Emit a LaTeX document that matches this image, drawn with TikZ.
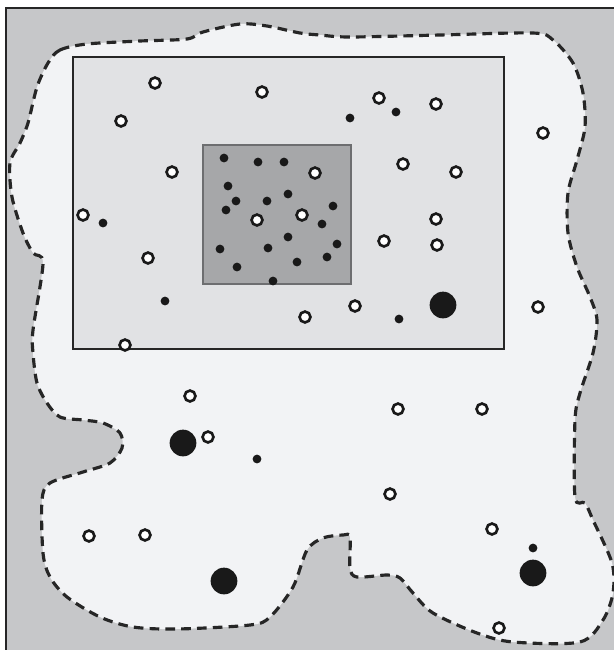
\documentclass[tikz,border=0pt]{standalone}
\definecolor{outergray}{HTML}{C6C7C9}
\definecolor{regionfill}{HTML}{F2F3F5}
\definecolor{boxfill}{HTML}{E1E2E4}
\definecolor{corefill}{HTML}{A6A7A9}
\definecolor{coreline}{HTML}{6D6E70}
\begin{document}
\begin{tikzpicture}[x=0.02cm,y=-0.02cm,
    opendot/.style={draw=black!90,fill=white,line width=1.5pt},
    smalldot/.style={fill=black!90},
    bigdot/.style={fill=black!90}]
    \useasboundingbox (0,0) rectangle (614,650);
    \clip (0,0) rectangle (614,650);
    % background and frame
    \fill[outergray] (6,8) rectangle (620,656);
    \draw[line width=1.5pt,black!85] (6,660) -- (6,8) -- (620,8);
    % dashed region
    \filldraw[fill=regionfill,draw=black!85,line width=1.8pt,dash pattern=on 5.5pt off 3.5pt]
        plot[smooth cycle,tension=0.5] coordinates {
        (48,63) (60,50) (87,44) (140,41) (187,39) (203,32) (240,24) (267,26)
        (300,33) (320,35) (350,37) (440,35) (533,33) (553,40) (573,63) (583,93)
        (585,127) (577,160) (568,193) (568,233) (577,267) (590,297) (597,320)
        (593,353) (580,393) (575,420) (575,497) (585,503) (593,520) (612,563)
        (613,593) (603,620) (580,642) (513,642) (477,633) (433,613) (413,593)
        (400,578) (387,575) (357,577) (350,568) (350,537) (343,535) (323,538)
        (307,550) (293,587) (270,617) (250,625) (177,629) (133,627) (100,617)
        (67,597) (50,577) (43,553) (42,500) (50,483) (83,472) (110,463)
        (122,448) (120,433) (103,423) (83,420) (60,417) (47,403) (37,383)
        (33,353) (33,330) (43,263) (33,253) (23,233) (12,197) (10,163)
        (20,143) (28,123) (37,87)};
    % boxes
    \filldraw[fill=boxfill,draw=black!85,line width=1.6pt] (73,57) rectangle (504,349);
    \filldraw[fill=corefill,draw=coreline,line width=1.6pt] (203,145) rectangle (351,284);
    % small dots
    \foreach \px/\py in {103/223,165/301,350/118,396/112,399/319,257/459,533/548,
        224/158,258/162,284/162,228/186,236/201,267/201,288/194,226/210,333/206,
        322/224,288/237,337/244,220/249,268/248,327/257,297/262,237/267,273/281}
        {\fill[smalldot] (\px,\py) circle[radius=2.5pt];}
    % open dots
    \foreach \px/\py in {155/83,262/92,121/121,172/172,83/215,148/258,305/317,
        315/173,257/220,302/215,379/98,436/104,543/133,403/164,456/172,436/219,
        384/241,437/245,355/306,538/307,125/345,190/396,208/437,89/536,145/535,
        398/409,482/409,390/494,492/529,499/628}
        {\draw[opendot] (\px,\py) circle[radius=3.1pt];}
    % big dots
    \foreach \px/\py in {443/305,183/443,224/581,533/573}
        {\fill[bigdot] (\px,\py) circle[radius=7.6pt];}
\end{tikzpicture}
\end{document}
